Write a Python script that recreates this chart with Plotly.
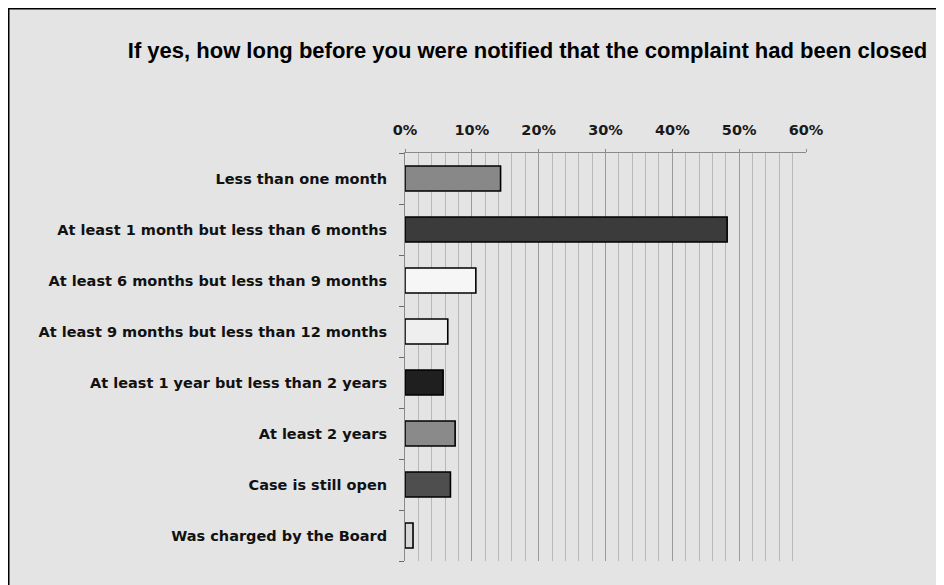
import plotly.graph_objects as go

title = "If yes, how long before you were notified that the complaint had been closed"
categories = [
    "Less than one month",
    "At least 1 month but less than 6 months",
    "At least 6 months but less than 9 months",
    "At least 9 months but less than 12 months",
    "At least 1 year but less than 2 years",
    "At least 2 years",
    "Case is still open",
    "Was charged by the Board",
]
values = [14.3, 48.2, 10.6, 6.4, 5.7, 7.5, 6.8, 1.2]
bar_colors = ["#888888", "#3b3b3b", "#f6f6f6", "#efefef", "#1f1f1f", "#8a8a8a", "#4e4e4e", "#d6d6d6"]
tick_vals = [0, 10, 20, 30, 40, 50, 60]
tick_text = ["0%", "10%", "20%", "30%", "40%", "50%", "60%"]

W, H = 944, 585
OFF = 8  # page body margin offset
# target screen positions of the plot area
L, R, T, B = 405 - OFF, 806 - OFF, 153 - OFF, 561 - OFF

fig = go.Figure(go.Bar(
    x=values, y=categories, orientation="h",
    marker=dict(color=bar_colors, line=dict(color="#000000", width=1.6)),
    width=0.49, hoverinfo="x+y",
))

pw, ph = R - L, B - T
def px(x):
    return (x - L) / pw
def py(y):
    return (B - y) / ph

fig.update_layout(
    width=W, height=H,
    margin=dict(l=L, r=W - R, t=T, b=H - B, pad=0),
    paper_bgcolor="#e4e4e4",
    plot_bgcolor="rgba(0,0,0,0)",
    showlegend=False,
    font=dict(family="Liberation Sans, Arial, sans-serif", color="#111111"),
    title=dict(text="<b>" + title + "</b>", x=(123 + 932) / 2 / W - OFF / W, xanchor="center",
               y=1 - (50 - OFF) / H, yanchor="middle",
               font=dict(family="Liberation Sans, Arial, sans-serif", size=22, color="#000000")),
    xaxis=dict(
        range=[0, 60], side="top", tickvals=tick_vals, ticktext=tick_text,
        tickfont=dict(family="DejaVu Sans, sans-serif", size=14.5, color="#1a1a1a", weight="bold"),
        showgrid=True, gridcolor="#9a9a9a", gridwidth=1.2,
        minor=dict(dtick=2, showgrid=True, gridcolor="#b8b8b8", gridwidth=1),
        showline=True, linecolor="#8a8a8a", linewidth=1,
        ticks="outside", ticklen=3, tickcolor="#8a8a8a",
        zeroline=False, fixedrange=True, ticklabelstandoff=8,
    ),
    yaxis=dict(
        categoryorder="array", categoryarray=categories[::-1],
        tickfont=dict(family="DejaVu Sans, sans-serif", size=14.5, color="#111111", weight="bold"),
        showline=True, linecolor="#8a8a8a", linewidth=1,
        ticks="outside", ticklen=5, tickcolor="#6a6a6a", tickson="boundaries",
        showgrid=False, zeroline=False, ticklabelstandoff=14, fixedrange=True,
    ),
    shapes=[dict(type="rect", xref="paper", yref="paper",
                 x0=px(0), x1=px(980), y0=py(620), y1=py(0),
                 fillcolor="rgba(0,0,0,0)", line=dict(color="#000000", width=3), layer="below")],
)

fig.write_html("out.html")
